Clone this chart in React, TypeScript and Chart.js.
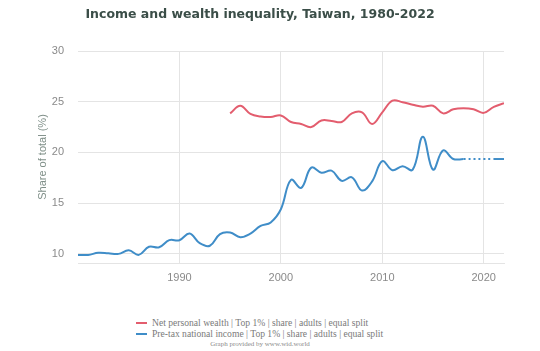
import React, { useEffect, useRef } from "react";
import { Chart, registerables } from "chart.js";

Chart.register(...registerables);

const years: number[] = [
  1980, 1981, 1982, 1983, 1984, 1985, 1986, 1987, 1988, 1989, 1990,
  1991, 1992, 1993, 1994, 1995, 1996, 1997, 1998, 1999, 2000,
  2001, 2002, 2003, 2004, 2005, 2006, 2007, 2008, 2009, 2010,
  2011, 2012, 2013, 2014, 2015, 2016, 2017, 2018, 2019, 2020, 2021, 2022,
];

const wealthTop1: (number | null)[] = [
  null, null, null, null, null, null, null, null, null, null, null,
  null, null, null, null, 23.85, 24.6, 23.8, 23.55, 23.5, 23.65,
  23.0, 22.8, 22.5, 23.15, 23.1, 23.0, 23.85, 23.95, 22.8, 23.95,
  25.1, 24.95, 24.7, 24.5, 24.6, 23.85, 24.25, 24.35, 24.25, 23.9, 24.5, 24.85,
];

const incomeTop1: (number | null)[] = [
  9.9, 9.9, 10.1, 10.05, 10.0, 10.35, 9.9, 10.7, 10.65, 11.35, 11.35,
  12.0, 11.05, 10.8, 11.95, 12.1, 11.65, 12.0, 12.75, 13.1, 14.4,
  17.3, 16.5, 18.5, 18.0, 18.2, 17.2, 17.55, 16.25, 17.15, 19.15,
  18.25, 18.65, 18.3, 21.55, 18.3, 20.2, 19.35, 19.35, null, null, 19.35, 19.35,
];

const seriesLabels: string[] = [
  "Net personal wealth | Top 1% | share | adults | equal split",
  "Pre-tax national income | Top 1% | share | adults | equal split",
];

const yTicks: number[] = [10, 15, 20, 25, 30];
const xTicks: number[] = [1990, 2000, 2010, 2020];

const RED = "#e35d6e";
const BLUE = "#3f8dc8";

export default function App() {
  const ref = useRef<HTMLCanvasElement | null>(null);

  useEffect(() => {
    if (!ref.current) return;
    const toPts = (arr: (number | null)[]) =>
      years.map((y, i) => ({ x: y, y: arr[i] }));
    const chart = new Chart(ref.current, {
      type: "line",
      data: {
        datasets: [
          {
            label: seriesLabels[0],
            data: toPts(wealthTop1) as any,
            borderColor: RED,
            backgroundColor: RED,
            borderWidth: 2,
            pointRadius: 0,
            tension: 0.4,
            spanGaps: false,
          },
          {
            label: seriesLabels[1],
            data: toPts(incomeTop1) as any,
            borderColor: BLUE,
            backgroundColor: BLUE,
            borderWidth: 2,
            pointRadius: 0,
            tension: 0.4,
            spanGaps: true,
            segment: {
              borderDash: (ctx: any) =>
                ctx.p0.skip || ctx.p1.skip ? [2, 3] : undefined,
            },
          },
        ],
      },
      options: {
        animation: false,
        responsive: false,
        maintainAspectRatio: false,
        layout: { padding: { left: 0, right: 0, top: 0, bottom: 0 } },
        plugins: {
          legend: { display: false },
          tooltip: { enabled: false },
          title: {
            display: true,
            text: "Income and wealth inequality, Taiwan, 1980-2022",
            color: "#3b4e48",
            font: { family: "'DejaVu Sans', sans-serif", size: 12.5, weight: "bold" },
            padding: { top: 7, bottom: 29 },
          },
        },
        scales: {
          x: {
            type: "linear",
            min: 1980,
            max: 2022,
            afterBuildTicks: (scale: any) => {
              scale.ticks = xTicks.map((v) => ({ value: v }));
            },
            afterFit: (scale: any) => {
              scale.height = 27;
            },
            ticks: {
              color: "#8a8a8a",
              font: { family: "'Liberation Sans', Arial, sans-serif", size: 11 },
              padding: 8,
              callback: (v: any) => String(v),
              maxRotation: 0,
            },
            grid: { color: "#e4e4e4", drawTicks: false },
            border: { color: "#e4e4e4" },
          },
          y: {
            min: 9.1,
            max: 30,
            afterBuildTicks: (scale: any) => {
              scale.ticks = yTicks.map((v) => ({ value: v }));
            },
            afterFit: (scale: any) => {
              scale.width = 78;
            },
            ticks: {
              color: "#8a8a8a",
              font: { family: "'Liberation Sans', Arial, sans-serif", size: 11 },
              padding: 14,
            },
            grid: { color: "#e4e4e4", drawTicks: false },
            border: { display: false },
            title: {
              display: true,
              text: "Share of total (%)",
              color: "#7f8f88",
              font: { family: "'Liberation Sans', Arial, sans-serif", size: 11 },
              padding: { top: 36, bottom: 0 },
            },
          },
          yRight: {
            position: "right",
            min: 9.1,
            max: 30,
            afterFit: (scale: any) => {
              scale.width = 16;
            },
            ticks: { display: false },
            grid: { display: false, drawTicks: false },
            border: { display: false },
          },
        },
      },
    });
    return () => chart.destroy();
  }, []);

  const legendRow = (color: string, text: string) => (
    <div style={{ display: "flex", alignItems: "center", height: 11 }}>
      <span
        style={{
          display: "inline-block",
          width: 11,
          height: 2,
          background: color,
          marginRight: 5,
        }}
      />
      <span>{text}</span>
    </div>
  );

  return (
    <div
      style={{
        position: "fixed",
        left: 0,
        top: 0,
        width: 540,
        height: 351,
        background: "#ffffff",
        overflow: "hidden",
      }}
    >
      <canvas ref={ref} width={520} height={290} style={{ display: "block" }} />
      <div
        style={{
          position: "absolute",
          left: 136,
          top: 317,
          fontFamily: "'Liberation Serif', 'Times New Roman', serif",
          fontSize: 9.6,
          color: "#7a7a7a",
          lineHeight: "11px",
          whiteSpace: "nowrap",
        }}
      >
        {legendRow(RED, seriesLabels[0])}
        {legendRow(BLUE, seriesLabels[1])}
      </div>
      <div
        style={{
          position: "absolute",
          left: 0,
          width: 520,
          top: 340,
          textAlign: "center",
          fontFamily: "'Liberation Serif', 'Times New Roman', serif",
          fontSize: 7,
          color: "#8a8a8a",
          whiteSpace: "nowrap",
        }}
      >
        Graph provided by www.wid.world
      </div>
    </div>
  );
}
